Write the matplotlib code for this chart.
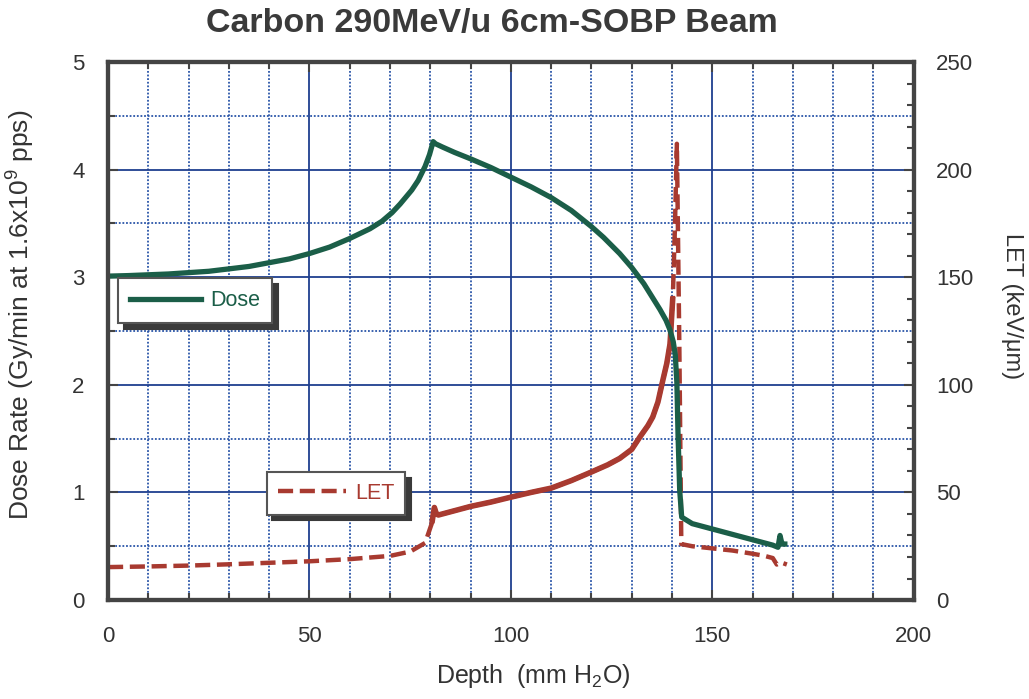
import numpy as np
import matplotlib.pyplot as plt
from matplotlib.ticker import MultipleLocator

# Dose depth curve (Gy/min)
depth_dose = [0, 5, 15, 25, 35, 45, 50, 55, 60, 65, 68, 70.5, 72.5, 75.4, 77,
              78.7, 79.8, 80.7, 81.3, 83, 86, 90, 95, 100, 105, 110, 115, 120,
              123, 127, 130, 133, 135, 137, 138.5, 139.5, 140.3, 140.8, 141.2,
              141.5, 141.9, 142.4, 145, 150, 155, 160, 165, 166.3, 166.8,
              167.3, 168]
dose = [3.01, 3.015, 3.03, 3.055, 3.10, 3.17, 3.22, 3.28, 3.36, 3.45, 3.52,
        3.60, 3.68, 3.81, 3.90, 4.03, 4.14, 4.26, 4.24, 4.21, 4.16, 4.10, 4.02,
        3.93, 3.84, 3.74, 3.62, 3.47, 3.37, 3.22, 3.09, 2.94, 2.82, 2.70, 2.60,
        2.51, 2.40, 2.28, 2.02, 1.52, 1.02, 0.77, 0.71, 0.66, 0.61, 0.56, 0.51,
        0.49, 0.60, 0.52, 0.52]

# LET depth curve (keV/um)
depth_let = [0, 10, 20, 30, 40, 50, 60, 70, 75, 78.7, 80.4, 81, 81.5, 82, 85,
             90, 95, 100, 105, 110, 115, 120, 124, 127, 130, 132, 134, 135.2,
             136.5, 137.7, 138.7, 139.5, 140.2, 140.7, 141.2, 141.8, 142.3, 145,
             150, 155, 160, 163, 165, 166, 167, 168.5]
let = [15.3, 15.6, 16.0, 16.6, 17.3, 18.0, 19.0, 20.5, 22.5, 26.5, 35.8, 43,
       40, 39.5, 41, 43.5, 45.5, 47.8, 50, 52, 55.5, 59.5, 62.8, 65.8, 70.0,
       75.7, 81, 85, 92, 102, 110, 119, 141, 172, 212, 120, 26, 25, 24, 23,
       21.5, 20.5, 19.5, 16.5, 17.5, 16.5]

green = '#1b5e48'
red = '#a83a30'
txt = '#333333'

plt.rcParams.update({
    'font.family': ['Liberation Sans', 'DejaVu Sans'],
    'font.size': 16,
    'mathtext.fontset': 'custom',
    'mathtext.rm': 'Liberation Sans',
    'mathtext.it': 'Liberation Sans',
})

fig = plt.figure(figsize=(10.29, 6.99), dpi=100)
ax = fig.add_axes([0.105, 0.1416, 0.783, 0.7697])
ax2 = ax.twinx()

# grid
ax.set_xlim(0, 200)
ax.set_ylim(0, 5)
ax2.set_ylim(0, 250)
ax.xaxis.set_major_locator(MultipleLocator(50))
ax.xaxis.set_minor_locator(MultipleLocator(10))
ax.yaxis.set_major_locator(MultipleLocator(1))
ax.yaxis.set_minor_locator(MultipleLocator(0.5))
ax2.yaxis.set_major_locator(MultipleLocator(50))
ax2.yaxis.set_minor_locator(MultipleLocator(10))
ax.grid(which='major', color='#1f3f8f', lw=1.3, ls='-')
ax.grid(which='minor', color='#2a55a8', lw=1.3, ls=(0, (1, 1)))
ax.set_axisbelow(True)

# curves
d_let = np.array(depth_let)
v_let = np.array(let)
ln_let, = ax2.plot(d_let, v_let, color=red, lw=3.2, ls=(0, (3.4, 1.5)), label='LET')
mid = (d_let >= 80.4) & (d_let <= 140.2)
ax2.plot(d_let[mid], v_let[mid], color=red, lw=4, solid_capstyle='butt')
ln_dose, = ax2.plot([], [], color=green, lw=3.8, label='Dose')
ax2.plot(depth_dose, np.array(dose) * 50, color=green, lw=3.8)

# axes styling
for a in (ax, ax2):
    for s in a.spines.values():
        s.set_linewidth(3)
        s.set_color('#444444')
ax.tick_params(which='both', direction='in', top=True, colors='#444444',
               labelcolor=txt, labelsize=16)
ax.tick_params(which='major', length=7, width=1.5)
ax.tick_params(which='minor', length=5, width=1.5)
ax.tick_params(axis='x', pad=19)
ax.tick_params(axis='y', pad=17)
ax2.tick_params(which='both', direction='in', colors='#444444',
                labelcolor=txt, labelsize=16, pad=16)
ax2.tick_params(which='major', length=7, width=1.5)
ax2.tick_params(which='minor', length=5, width=1.5)

ax.set_xlabel('Depth  (mm H$_2$O)', fontsize=18, color=txt)
ax.xaxis.set_label_coords(0.528, -0.115)
ax.set_ylabel('Dose Rate (Gy/min at 1.6x10$^9$ pps)', fontsize=19, color=txt)
ax.yaxis.set_label_coords(-0.088, 0.53)
ax2.set_ylabel('LET (keV/\u03bcm)', fontsize=17, color=txt, rotation=270)
ax2.yaxis.set_label_coords(1.135, 0.546)

fig.text(0.478, 0.966, 'Carbon 290MeV/u 6cm-SOBP Beam', fontsize=24.5,
         fontweight='bold', color='#3a3a3a', ha='center', va='center')

# legends as two separate shadowed boxes
shadow = {'ox': 4, 'oy': -4, 'color': '#3a3a3a', 'alpha': 1}
leg1 = ax2.legend(handles=[ln_dose], loc='upper left',
                  bbox_to_anchor=(0.0124, 0.598), borderaxespad=0,
                  fancybox=False, shadow=shadow, framealpha=1,
                  edgecolor='#555555', fontsize=15.5, handlelength=3.3,
                  labelcolor='linecolor', borderpad=0.55, handletextpad=0.45)
leg1.get_frame().set_linewidth(1.5)
ax2.add_artist(leg1)
leg2 = ax2.legend(handles=[ln_let], loc='upper left',
                  bbox_to_anchor=(0.197, 0.238), borderaxespad=0,
                  fancybox=False, shadow=shadow, framealpha=1,
                  edgecolor='#555555', fontsize=15.5, handlelength=3.2,
                  labelcolor='linecolor', borderpad=0.5, handletextpad=0.4)
leg2.get_frame().set_linewidth(1.5)

fig.savefig('out.png', dpi=100)
